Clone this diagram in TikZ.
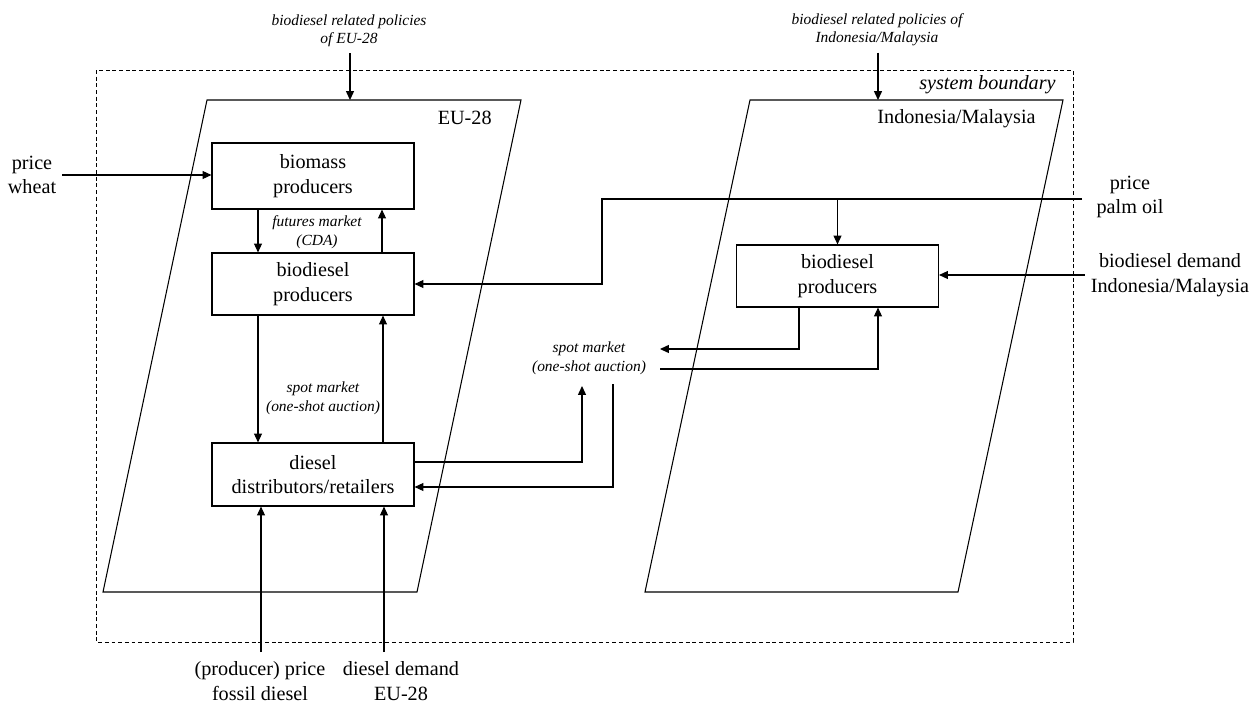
\documentclass[tikz,border=0pt]{standalone}
\usepackage{fontspec}
\setmainfont{Liberation Serif}
\usetikzlibrary{arrows.meta}
\newcommand\mainsz{\fontsize{11.5}{14}\selectfont}
\newcommand\smallit{\fontsize{8.8}{10.5}\selectfont\itshape}
\begin{document}
\begin{tikzpicture}[x=0.02cm,y=-0.02cm,
 box/.style={draw,line width=0.65pt,minimum width=4.04cm,inner sep=0pt,align=center,font=\mainsz},
 txt/.style={align=center,font=\mainsz},
 itl/.style={align=center,font=\smallit},
 ln/.style={line width=0.6pt},
 arr/.style={line width=0.6pt,-{Triangle[length=5pt,width=4.5pt]}},
 bnd/.style={line width=0.5pt,dash pattern=on 2.2pt off 1.6pt}]
\useasboundingbox (0,0) rectangle (1259,703);

% system boundary
\draw[bnd] (96,70) rectangle (1073,642);
\node[anchor=east,inner sep=0pt,font=\fontsize{11.5}{14}\selectfont\itshape] (sb) at (1056,85) {system boundary};

% regions
\coordinate (eutl) at (207,100); \coordinate (eutr) at (521,100);
\coordinate (eubr) at (417,592); \coordinate (eubl) at (103,592);
\draw[ln] (eutl) -- (eutr) -- (eubr) -- (eubl) -- cycle;
\node[anchor=east,inner sep=0pt,font=\mainsz] (eulab) at (492,118) {EU-28};

\coordinate (intl) at (750,100); \coordinate (intr) at (1063,100);
\coordinate (inbr) at (958,592); \coordinate (inbl) at (645,592);
\draw[ln] (intl) -- (intr) -- (inbr) -- (inbl) -- cycle;
\node[anchor=east,inner sep=0pt,font=\mainsz] (inlab) at (1036,119) {Indonesia/Malaysia};

% boxes
\node[box,minimum height=1.32cm] (bm) at (313,176) {biomass\\producers};
\node[box,minimum height=1.24cm] (bdeu) at (313,284) {biodiesel\\producers};
\node[box,minimum height=1.26cm] (dd) at (313,474.5) {diesel\\distributors/retailers};
\node[box,minimum height=1.24cm] (bdin) at (837.5,276) {biodiesel\\producers};

% policies
\node[itl] (polEU) at (349,31) {biodiesel related policies\\of EU-28};
\draw[arr] (350,51 |- polEU.south) -- (350,0 |- eutl);
\node[itl] (polIN) at (877,30) {biodiesel related policies of\\Indonesia/Malaysia};
\draw[arr] (878,50 |- polIN.south) -- (878,0 |- intl);

% price wheat
\node[txt] (pw) at (32,175) {price\\wheat};
\draw[arr] (pw.east) -- (pw.east -| bm.west);

% futures market
\draw[arr] (258,0 |- bm.south) -- (258,0 |- bdeu.north);
\draw[arr] (382,0 |- bdeu.north) -- (382,0 |- bm.south);
\node[itl] (fm) at (317,232) {futures market\\(CDA)};

% EU spot market
\draw[arr] (258,0 |- bdeu.south) -- (258,0 |- dd.north);
\draw[arr] (383,0 |- dd.north) -- (383,0 |- bdeu.south);
\node[itl] (smEU) at (323,398.5) {spot market\\(one-shot auction)};

% price palm oil
\node[txt] (ppo) at (1130,197) {price\\palm oil};
\coordinate (po) at (1082,199);
\coordinate (pj) at (602,199);
\draw[arr] (po) -- (pj) |- (bdeu.east);
\draw[arr] (po -| bdin.north) -- (bdin.north);

% biodiesel demand
\node[txt] (bdd) at (1170,275) {biodiesel demand\\Indonesia/Malaysia};
\draw[arr] (bdd.west) -- (bdd.west -| bdin.east);

% middle spot market
\node[itl] (smM) at (589,358.5) {spot market\\(one-shot auction)};
\coordinate (smR1) at (660,349);
\coordinate (smR2) at (660,369);
\coordinate (smB1) at (582,386);
\coordinate (smB2) at (613,384);
\draw[arr] (799,0 |- bdin.south) |- (smR1);
\draw[arr] (smR2) -| (878,0 |- bdin.south);
\draw[arr] (dd.east |- 0,462) -| (smB1);
\draw[arr] (smB2) |- (dd.east |- 0,487);

% bottom inputs
\node[txt] (pfd) at (260,681) {(producer) price\\fossil diesel};
\node[txt] (dde) at (401,681) {diesel demand\\EU-28};
\coordinate (pfdt) at (261,652);
\coordinate (ddet) at (384,652);
\draw[arr] (pfdt) -- (pfdt |- dd.south);
\draw[arr] (ddet) -- (ddet |- dd.south);
\end{tikzpicture}
\end{document}
